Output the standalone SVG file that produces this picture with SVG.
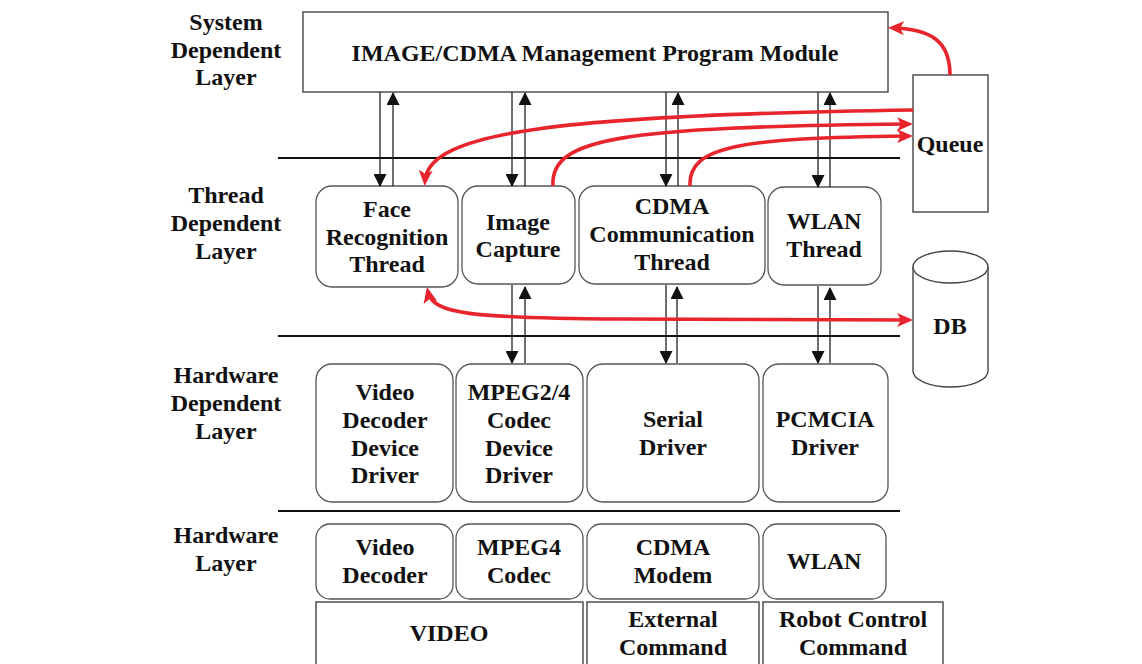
<svg xmlns="http://www.w3.org/2000/svg" width="1142" height="664" viewBox="0 0 1142 664">
  <style>
    text { font-family: "Liberation Serif", "Times New Roman", serif; font-weight: bold; font-size: 24px; fill: #111; text-anchor: middle; }
    .box { fill: #fff; stroke: #444; stroke-width: 1.4; }
    .rbox { fill: #fff; stroke: #555; stroke-width: 1.3; }
    .sep { stroke: #111; stroke-width: 2; }
    .flow { stroke: #222; stroke-width: 1.3; fill: none; marker-end: url(#ah); }
    .red { stroke: #e8242c; stroke-width: 3.6; fill: none; marker-end: url(#rah); }
  </style>
  <defs>
    <marker id="ah" markerUnits="userSpaceOnUse" markerWidth="13" markerHeight="13" refX="12" refY="6.5" orient="auto">
      <path d="M0,0 L13,6.5 L0,13 z" fill="#111"/>
    </marker>
    <marker id="rah" markerUnits="userSpaceOnUse" markerWidth="16" markerHeight="14" refX="11" refY="7" orient="auto-start-reverse">
      <path d="M0,0 L16,7 L0,14 L4,7 z" fill="#e8242c"/>
    </marker>
  </defs>

  <rect width="1142" height="664" fill="#fff"/>

  <!-- layer titles -->
  <g id="layer-labels">
    <text x="226" y="30">System</text>
    <text x="226" y="58">Dependent</text>
    <text x="226" y="85">Layer</text>
    <text x="226" y="203">Thread</text>
    <text x="226" y="231">Dependent</text>
    <text x="226" y="259">Layer</text>
    <text x="226" y="383">Hardware</text>
    <text x="226" y="411">Dependent</text>
    <text x="226" y="439">Layer</text>
    <text x="226" y="543">Hardware</text>
    <text x="226" y="571">Layer</text>
  </g>

  <!-- layer separators -->
  <g id="separators">
    <line class="sep" x1="278" y1="158" x2="900" y2="158"/>
    <line class="sep" x1="278" y1="336" x2="900" y2="336"/>
    <line class="sep" x1="278" y1="511" x2="900" y2="511"/>
  </g>

  <!-- system layer -->
  <g id="mgmt">
    <rect class="box" x="303" y="12" width="585" height="80"/>
    <text x="595" y="61">IMAGE/CDMA Management Program Module</text>
  </g>

  <g id="queue">
    <rect class="box" x="913" y="75" width="75" height="137"/>
    <text x="950" y="152">Queue</text>
  </g>

  <g id="db">
    <path class="box" d="M913,267 L913,371 A37.5,16 0 0 0 988,371 L988,267"/>
    <ellipse class="box" cx="950.5" cy="267" rx="37.5" ry="16"/>
    <text x="950" y="334">DB</text>
  </g>

  <!-- thread layer -->
  <g id="face-thread">
    <rect class="rbox" x="316" y="186" width="142" height="101" rx="16"/>
    <text x="387" y="217">Face</text>
    <text x="387" y="245">Recognition</text>
    <text x="387" y="272">Thread</text>
  </g>
  <g id="image-capture">
    <rect class="rbox" x="462" y="186" width="113" height="98" rx="16"/>
    <text x="518" y="230">Image</text>
    <text x="518" y="257">Capture</text>
  </g>
  <g id="cdma-thread">
    <rect class="rbox" x="579" y="186" width="186" height="98" rx="16"/>
    <text x="672" y="214">CDMA</text>
    <text x="672" y="242">Communication</text>
    <text x="672" y="270">Thread</text>
  </g>
  <g id="wlan-thread">
    <rect class="rbox" x="768" y="187" width="113" height="98" rx="16"/>
    <text x="824" y="229">WLAN</text>
    <text x="824" y="257">Thread</text>
  </g>

  <!-- hardware dependent layer -->
  <g id="video-driver">
    <rect class="rbox" x="316" y="364" width="137" height="138" rx="16"/>
    <text x="385" y="400">Video</text>
    <text x="385" y="428">Decoder</text>
    <text x="385" y="456">Device</text>
    <text x="385" y="483">Driver</text>
  </g>
  <g id="mpeg-driver">
    <rect class="rbox" x="456" y="364" width="127" height="138" rx="16"/>
    <text x="519" y="400">MPEG2/4</text>
    <text x="519" y="428">Codec</text>
    <text x="519" y="456">Device</text>
    <text x="519" y="483">Driver</text>
  </g>
  <g id="serial-driver">
    <rect class="rbox" x="587" y="364" width="172" height="138" rx="16"/>
    <text x="673" y="427">Serial</text>
    <text x="673" y="455">Driver</text>
  </g>
  <g id="pcmcia-driver">
    <rect class="rbox" x="763" y="364" width="125" height="138" rx="16"/>
    <text x="825" y="427">PCMCIA</text>
    <text x="825" y="455">Driver</text>
  </g>

  <!-- hardware layer -->
  <g id="video-decoder">
    <rect class="rbox" x="316" y="524" width="137" height="75" rx="14"/>
    <text x="385" y="555">Video</text>
    <text x="385" y="583">Decoder</text>
  </g>
  <g id="mpeg4-codec">
    <rect class="rbox" x="456" y="524" width="127" height="75" rx="14"/>
    <text x="519" y="555">MPEG4</text>
    <text x="519" y="583">Codec</text>
  </g>
  <g id="cdma-modem">
    <rect class="rbox" x="587" y="524" width="172" height="75" rx="14"/>
    <text x="673" y="555">CDMA</text>
    <text x="673" y="583">Modem</text>
  </g>
  <g id="wlan">
    <rect class="rbox" x="763" y="524" width="123" height="75" rx="14"/>
    <text x="824" y="569">WLAN</text>
  </g>

  <g id="video">
    <rect class="box" x="316" y="602" width="267" height="80"/>
    <text x="449" y="641">VIDEO</text>
  </g>
  <g id="external-command">
    <rect class="box" x="587" y="602" width="172" height="80"/>
    <text x="673" y="627">External</text>
    <text x="673" y="655">Command</text>
  </g>
  <g id="robot-command">
    <rect class="box" x="763" y="602" width="180" height="80"/>
    <text x="853" y="627">Robot Control</text>
    <text x="853" y="655">Command</text>
  </g>

  <!-- connectors -->
  <g id="connectors">
    <!-- management program <-> threads -->
    <line class="flow" x1="380" y1="92" x2="380" y2="186"/>
    <line class="flow" x1="393" y1="186" x2="393" y2="93"/>
    <line class="flow" x1="512" y1="92" x2="512" y2="186"/>
    <line class="flow" x1="525" y1="186" x2="525" y2="93"/>
    <line class="flow" x1="666" y1="92" x2="666" y2="186"/>
    <line class="flow" x1="678" y1="186" x2="678" y2="93"/>
    <line class="flow" x1="818" y1="92" x2="818" y2="187"/>
    <line class="flow" x1="830" y1="187" x2="830" y2="93"/>

    <!-- threads <-> drivers -->
    <line class="flow" x1="512" y1="285" x2="512" y2="363"/>
    <line class="flow" x1="525" y1="363" x2="525" y2="287"/>
    <line class="flow" x1="666" y1="285" x2="666" y2="363"/>
    <line class="flow" x1="677" y1="363" x2="677" y2="287"/>
    <line class="flow" x1="818" y1="286" x2="818" y2="363"/>
    <line class="flow" x1="830" y1="363" x2="830" y2="288"/>

    <!-- queue / db data paths -->
    <path class="red" d="M950,75 C950,42 932,29 893,28"/>
    <path class="red" d="M913,110 C560,115 428,132 425,181"/>
    <path class="red" d="M553,186 C550,138 620,127 908,124"/>
    <path class="red" d="M690,186 C688,146 740,138 908,136"/>
    <path class="red" style="marker-start: url(#rah)" d="M428,292 C433,314 470,318 620,319 L908,320"/>
  </g>
</svg>
